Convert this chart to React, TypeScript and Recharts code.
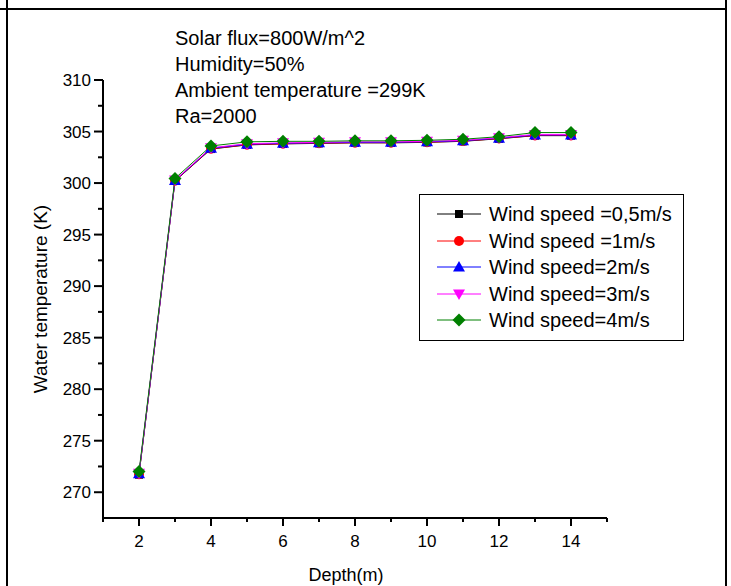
import React from "react";
import { Legend, Line, LineChart, XAxis, YAxis } from "recharts";

const depth = [2, 3, 4, 5, 6, 7, 8, 9, 10, 11, 12, 13, 14];
const ws05 = [271.7, 300.2, 303.3, 303.7, 303.8, 303.85, 303.9, 303.9, 303.95, 304.05, 304.3, 304.6, 304.6];
const ws1 = [271.75, 300.22, 303.33, 303.72, 303.82, 303.87, 303.92, 303.92, 303.97, 304.07, 304.32, 304.62, 304.62];
const ws2 = [271.8, 300.25, 303.37, 303.76, 303.86, 303.9, 303.95, 303.95, 304.0, 304.1, 304.35, 304.66, 304.66];
const ws3 = [271.85, 300.3, 303.42, 303.82, 303.9, 303.95, 304.0, 304.0, 304.05, 304.15, 304.4, 304.72, 304.72];
const ws4 = [272.0, 300.45, 303.6, 304.0, 304.05, 304.05, 304.1, 304.1, 304.15, 304.25, 304.5, 304.9, 304.9];

const xTicks = [1, 2, 3, 4, 5, 6, 7, 8, 9, 10, 11, 12, 13, 14, 15];
const yTicks = [270, 272.5, 275, 277.5, 280, 282.5, 285, 287.5, 290, 292.5, 295, 297.5, 300, 302.5, 305, 307.5, 310];

const notes = ["Solar flux=800W/m^2", "Humidity=50%", "Ambient temperature =299K", "Ra=2000"];

const FONT = "Arial, 'Liberation Sans', sans-serif";

type Shape = "square" | "circle" | "up" | "down" | "diamond";

const series: { key: string; name: string; color: string; shape: Shape; values: number[] }[] = [
  { key: "a", name: "Wind speed =0,5m/s", color: "#000000", shape: "square", values: ws05 },
  { key: "b", name: "Wind speed =1m/s", color: "#ff0000", shape: "circle", values: ws1 },
  { key: "c", name: "Wind speed=2m/s", color: "#0000ff", shape: "up", values: ws2 },
  { key: "d", name: "Wind speed=3m/s", color: "#ff00ff", shape: "down", values: ws3 },
  { key: "e", name: "Wind speed=4m/s", color: "#008000", shape: "diamond", values: ws4 },
];

const rows = depth.map((d, i) => {
  const r: any = { depth: d };
  series.forEach((s) => (r[s.key] = s.values[i]));
  return r;
});

function Marker({ cx, cy, shape, color }: { cx: number; cy: number; shape: Shape; color: string }) {
  if (shape === "square") return <rect x={cx - 4} y={cy - 4} width={8} height={8} fill={color} />;
  if (shape === "circle") return <circle cx={cx} cy={cy} r={5} fill={color} />;
  if (shape === "up")
    return <polygon points={`${cx},${cy - 6} ${cx - 6},${cy + 4.5} ${cx + 6},${cy + 4.5}`} fill={color} />;
  if (shape === "down")
    return <polygon points={`${cx},${cy + 6} ${cx - 6},${cy - 4.5} ${cx + 6},${cy - 4.5}`} fill={color} />;
  return <polygon points={`${cx},${cy - 6.5} ${cx + 6.5},${cy} ${cx},${cy + 6.5} ${cx - 6.5},${cy}`} fill={color} />;
}

function XTick({ x, y, payload }: any) {
  const major = payload.value % 2 === 0;
  return (
    <g>
      <line x1={x} x2={x} y1={y} y2={y + (major ? 8 : 4)} stroke="#000" strokeWidth={2} />
      {major && (
        <text x={x} y={y + 29} textAnchor="middle" fontSize={17} fontFamily={FONT} fill="#000">
          {payload.value}
        </text>
      )}
    </g>
  );
}

function YTick({ x, y, payload }: any) {
  const major = payload.value % 5 === 0;
  return (
    <g>
      <line x1={x - (major ? 9 : 5)} x2={x} y1={y} y2={y} stroke="#000" strokeWidth={2} />
      {major && (
        <text x={x - 12} y={y + 6} textAnchor="end" fontSize={17} fontFamily={FONT} fill="#000">
          {payload.value}
        </text>
      )}
    </g>
  );
}

function LegendBox() {
  return (
    <div
      style={{
        border: "1px solid #000",
        background: "#fff",
        width: 263,
        height: 139,
        boxSizing: "content-box",
        paddingTop: 6,
        fontFamily: FONT,
        fontSize: 20,
      }}
    >
      {series.map((s) => (
        <div key={s.key} style={{ height: 26.5, display: "flex", alignItems: "center", paddingLeft: 17 }}>
          <svg width={44} height={16} style={{ display: "block" }}>
            <line x1={0} x2={44} y1={8} y2={8} stroke={s.color} strokeWidth={1} />
            <Marker cx={22} cy={8} shape={s.shape} color={s.color} />
          </svg>
          <span style={{ marginLeft: 8, whiteSpace: "nowrap", lineHeight: 1 }}>{s.name}</span>
        </div>
      ))}
    </div>
  );
}

export default function App() {
  return (
    <div style={{ position: "absolute", left: 0, top: 0, width: 731, height: 586, background: "#fff", fontFamily: FONT }}>
      <LineChart width={731} height={586} data={rows} margin={{ top: 80, right: 124, bottom: 0, left: 0 }}>
        <XAxis
          dataKey="depth"
          type="number"
          domain={[1, 15]}
          ticks={xTicks}
          interval={0}
          height={68}
          tickSize={0}
          tickMargin={0}
          tickLine={false}
          tick={<XTick />}
          axisLine={{ stroke: "#000", strokeWidth: 2 }}
          label={(p: any) => {
            const vb = p.viewBox;
            return (
              <text x={vb.x + vb.width / 2 - 9} y={vb.y + 63} textAnchor="middle" fontSize={18} fontFamily={FONT} fill="#000">
                Depth(m)
              </text>
            );
          }}
        />
        <YAxis
          type="number"
          domain={[267.5, 310]}
          ticks={yTicks}
          interval={0}
          width={103}
          tickSize={0}
          tickMargin={0}
          tickLine={false}
          tick={<YTick />}
          axisLine={{ stroke: "#000", strokeWidth: 2 }}
          label={(p: any) => {
            const vb = p.viewBox;
            const cx = vb.x + 47;
            const cy = vb.y + vb.height / 2;
            return (
              <text x={cx} y={cy} transform={`rotate(-90 ${cx} ${cy})`} textAnchor="middle" fontSize={19} fontFamily={FONT} fill="#000">
                Water temperature (K)
              </text>
            );
          }}
        />
        <Legend
          layout="vertical"
          align="center"
          verticalAlign="middle"
          content={<LegendBox />}
          wrapperStyle={{ left: 419, top: 194, width: 265, height: 141 }}
        />
        {series.map((s) => (
          <Line
            key={s.key}
            dataKey={s.key}
            name={s.name}
            stroke={s.color}
            strokeWidth={1}
            isAnimationActive={false}
            dot={(p: any) => <Marker key={`${s.key}-${p.index}`} cx={p.cx} cy={p.cy} shape={s.shape} color={s.color} />}
            activeDot={false}
          />
        ))}
      </LineChart>
      <div style={{ position: "absolute", left: 175, top: 25, fontSize: 20, lineHeight: "26px", color: "#000" }}>
        {notes.map((n) => (
          <div key={n}>{n}</div>
        ))}
      </div>
      <div style={{ position: "absolute", left: 6, top: 0, width: 2, height: 586, background: "#000" }} />
      <div style={{ position: "absolute", left: 725, top: 0, width: 2, height: 586, background: "#000" }} />
      <div style={{ position: "absolute", left: 0, top: 8, width: 727, height: 2, background: "#000" }} />
    </div>
  );
}
